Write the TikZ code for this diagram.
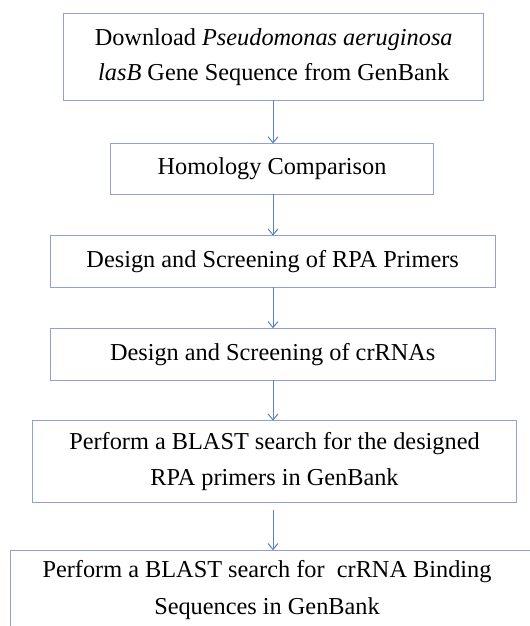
\documentclass[tikz,border=0pt]{standalone}
\usepackage{fontspec}
\setmainfont{Liberation Serif}
\usetikzlibrary{arrows.meta}
\definecolor{boxc}{RGB}{143,160,214}
\definecolor{arrc}{RGB}{95,128,200}
\begin{document}
\begin{tikzpicture}[x=1bp,y=-1bp,
  box/.style={draw=boxc, line width=0.9bp, inner sep=0pt, align=center,
    font=\fontsize{24.4}{36}\selectfont},
  plain/.style={inner sep=0pt, align=center, font=\fontsize{24.4}{37}\selectfont},
  conn/.style={draw=arrc, line width=1bp, -{Straight Barb[length=6bp,width=10bp]}}]
\useasboundingbox (0,0) rectangle (530,626);
\begin{scope}
\clip (0,0) rectangle (530,626);
\node[box, minimum width=420bp, minimum height=86.7bp] (b1) at (273.7,57.2)
  {Download \textit{Pseudomonas aeruginosa}\\\textit{lasB} Gene Sequence from GenBank};
\node[box, minimum width=322.6bp, minimum height=50.5bp] (b2) at (272,168.7)
  {Homology Comparison};
\node[box, minimum width=445.3bp, minimum height=51.6bp] (b3) at (272.7,261.5)
  {Design and Screening of RPA Primers};
\node[box, minimum width=445.3bp, minimum height=51.7bp] (b4) at (272.7,354.2)
  {Design and Screening of crRNAs};
\node[box, minimum width=484.4bp, minimum height=81.6bp] (b5) at (274.5,461.5)
  {Perform a BLAST search for the designed\\RPA primers in GenBank};
\node[box, minimum width=549.7bp, minimum height=109.3bp] (b6) at (285.15,605.35) {};
\node[plain] (t6) at (267,590)
  {Perform a BLAST search for~ crRNA Binding\\Sequences in GenBank};
\coordinate (s5) at (273,510);
\draw[conn] (273,100) -- (273,143.5);
\draw[conn] (273,194) -- (273,235.7);
\draw[conn] (273,287.3) -- (273,328.3);
\draw[conn] (273,380) -- (273,420.7);
\draw[conn] (s5) -- (s5 |- b6.north);
\end{scope}
\end{tikzpicture}
\end{document}
